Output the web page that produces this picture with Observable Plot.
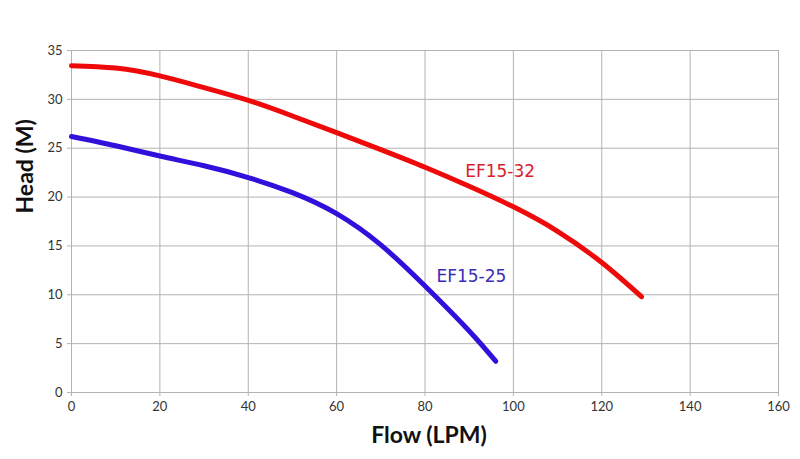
<!DOCTYPE html>
<html>
<head>
<meta charset="utf-8">
<script src="https://cdn.jsdelivr.net/npm/d3@7"></script>
<script src="https://cdn.jsdelivr.net/npm/@observablehq/plot@0.6"></script>
<style>
  html, body { margin: 0; padding: 0; background: #fff; }
  #chart svg { display: block; }
</style>
</head>
<body>
<div id="chart"></div>
<script>
const xTicks = [0, 20, 40, 60, 80, 100, 120, 140, 160];
const yTicks = [0, 5, 10, 15, 20, 25, 30, 35];

const ef1532Flow = [0, 10, 20, 30, 40, 50, 60, 70, 80, 90, 100, 110, 120, 129];
const ef1532Head = [33.45, 33.2, 32.4, 31.2, 29.9, 28.3, 26.6, 24.85, 23.05, 21.1, 19.0, 16.5, 13.3, 9.8];

const ef1525Flow = [0, 10, 20, 30, 40, 50, 60, 70, 80, 90, 96];
const ef1525Head = [26.2, 25.25, 24.2, 23.2, 22.0, 20.45, 18.3, 15.1, 10.9, 6.3, 3.2];

const seriesNames = ["EF15-32", "EF15-25"];
const labelFlow = [97, 90.5];
const labelHead = [22.6, 11.9];

const red = ef1532Flow.map((f, i) => ({flow: f, head: ef1532Head[i]}));
const blue = ef1525Flow.map((f, i) => ({flow: f, head: ef1525Head[i]}));
const labels = seriesNames.map((n, i) => ({name: n, flow: labelFlow[i], head: labelHead[i]}));

const gridColor = "#b3b3b3";

const chart = Plot.plot({
  width: 800,
  height: 459,
  marginLeft: 71,
  marginRight: 22,
  marginTop: 50,
  marginBottom: 67,
  style: {fontFamily: "Lato, 'Open Sans', sans-serif", fontSize: "13px", color: "#333"},
  x: {domain: [0, 160], ticks: xTicks, label: null},
  y: {domain: [0, 35], ticks: yTicks, label: null},
  marks: [
    Plot.gridX(xTicks, {stroke: gridColor, strokeOpacity: 1, strokeWidth: 1}),
    Plot.gridY(yTicks, {stroke: gridColor, strokeOpacity: 1, strokeWidth: 1}),
    Plot.axisX({ticks: xTicks, tickSize: 4, tickPadding: 5, stroke: gridColor, fill: "#333", fontSize: 13, label: null}),
    Plot.axisY({ticks: yTicks, tickSize: 4, tickPadding: 5, stroke: gridColor, fill: "#333", fontSize: 13, label: null}),
    Plot.ruleX([0], {stroke: gridColor}),
    Plot.ruleY([0], {stroke: gridColor}),
    Plot.line(red, {x: "flow", y: "head", stroke: "#ee0a0a", strokeWidth: 5, curve: "natural", strokeLinecap: "round"}),
    Plot.line(blue, {x: "flow", y: "head", stroke: "#3210dc", strokeWidth: 5, curve: "natural", strokeLinecap: "round"}),
    Plot.text(labels, {x: "flow", y: "head", text: "name", fill: (d, i) => i === 0 ? "#d8222c" : "#3a2db8",
      fontSize: 17, fontFamily: "'DejaVu Sans', Verdana, sans-serif", textAnchor: "middle"}),
    Plot.text(["Flow (LPM)"], {frameAnchor: "bottom", dx: 4, dy: 50, fontSize: 23, fontWeight: "bold", fill: "#111", fontFamily: "Lato, 'Open Sans', sans-serif"}),
    Plot.text(["Head (M)"], {frameAnchor: "left", dx: -46, dy: -8, rotate: -90, fontSize: 23, fontWeight: "bold", fill: "#111", fontFamily: "Lato, 'Open Sans', sans-serif"})
  ]
});

document.getElementById("chart").appendChild(chart);
</script>
</body>
</html>
